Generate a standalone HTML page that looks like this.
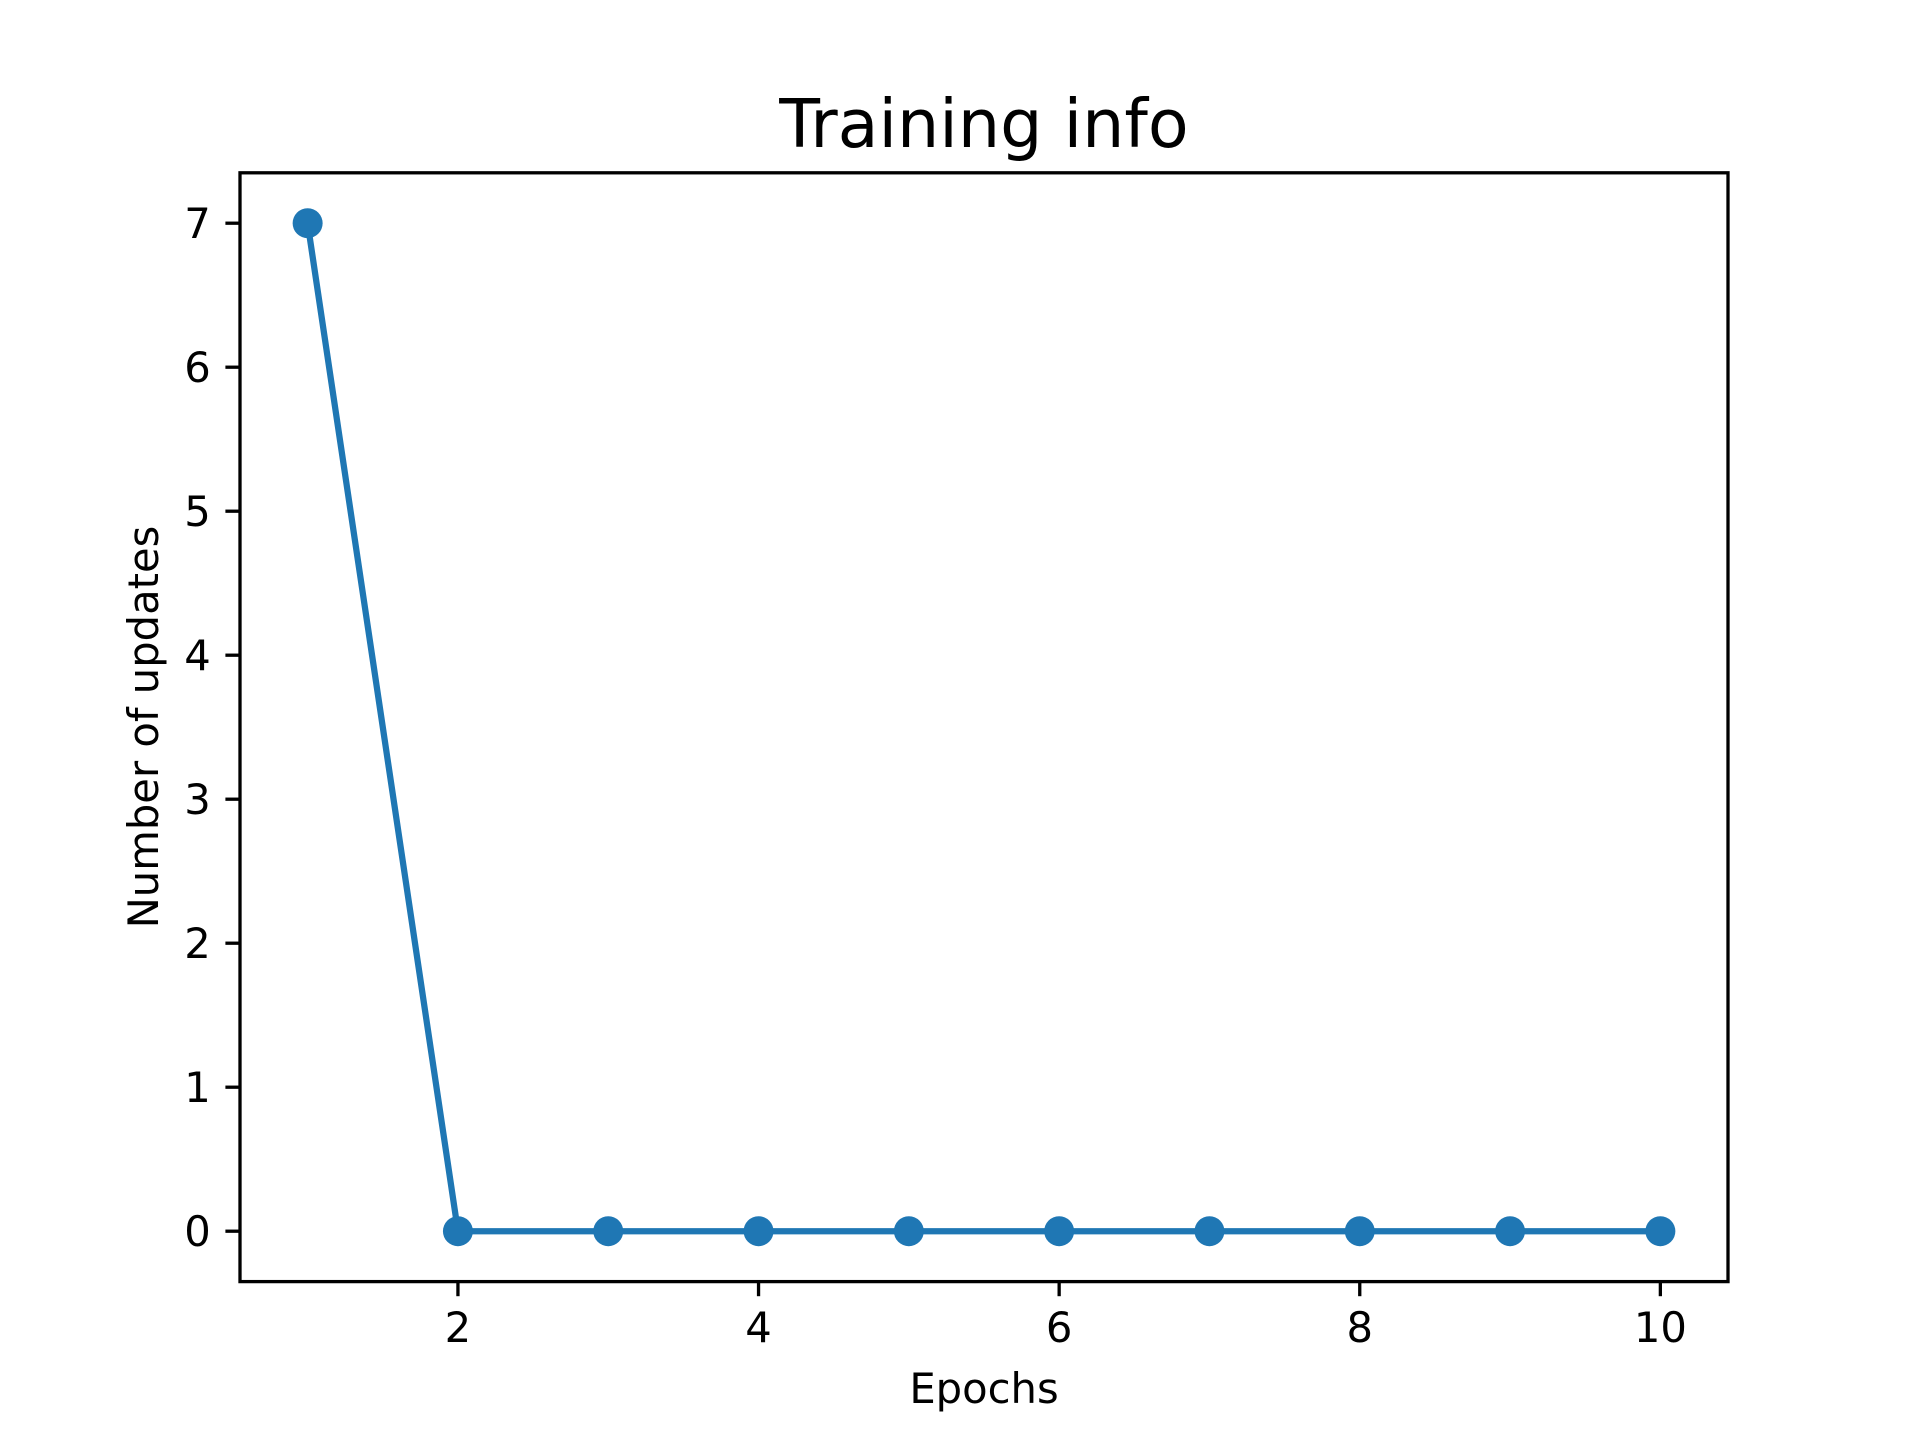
<!DOCTYPE html>
<html><head><meta charset="utf-8"><style>
html,body{margin:0;padding:0;background:#fff}
svg{display:block}
text{font-family:"DejaVu Sans","Liberation Sans",sans-serif;fill:#000}
</style></head><body>
<svg id="chart" width="1920" height="1440" viewBox="0 0 1920 1440" xmlns="http://www.w3.org/2000/svg">
<rect width="1920" height="1440" fill="#fff"/>
<text x="984" y="147" font-size="66.7" text-anchor="middle">Training info</text>
<g id="plot"></g>
<text x="984" y="1403" font-size="41.7" text-anchor="middle">Epochs</text>
<text transform="translate(158,727) rotate(-90)" font-size="41.7" text-anchor="middle">Number of updates</text>
</svg>
<script>
const epochs = [1,2,3,4,5,6,7,8,9,10];
const updates = [7,0,0,0,0,0,0,0,0,0];
const xTicks = [2,4,6,8,10];
const yTicks = [0,1,2,3,4,5,6,7];

const L=240,R=1728,T=172.8,B=1281.6;
const xmin=0.55,xmax=10.45,ymin=-0.35,ymax=7.35;
const xs=v=>L+(v-xmin)/(xmax-xmin)*(R-L);
const ys=v=>B-(v-ymin)/(ymax-ymin)*(B-T);
const NS="http://www.w3.org/2000/svg";
const g=document.getElementById('plot');
function mk(tag,attrs){const e=document.createElementNS(NS,tag);for(const k in attrs)e.setAttribute(k,attrs[k]);g.appendChild(e);return e;}

xTicks.forEach(v=>{
  const t=mk('line',{x1:xs(v),x2:xs(v),y1:B,y2:B+14.6,stroke:'#000','stroke-width':3.3});
  
  
  const l=mk('text',{x:xs(v),y:B+14.6+14.6+31,'font-size':41.7,'text-anchor':'middle'});
  l.textContent=v;
  
  
});
yTicks.forEach(v=>{
  const t=mk('line',{x1:L-14.6,x2:L,y1:ys(v),y2:ys(v),stroke:'#000','stroke-width':3.3});
  
  
  const l=mk('text',{x:L-14.6-14.6,y:ys(v)+15,'font-size':41.7,'text-anchor':'end'});
  l.textContent=v;
  
  
});
const pts=epochs.map((e,i)=>xs(e)+','+ys(updates[i])).join(' ');
const line=mk('polyline',{points:pts,fill:'none',stroke:'#1f77b4','stroke-width':6.25,'stroke-linejoin':'round','stroke-linecap':'square'});


epochs.forEach((e,i)=>{
  const c=mk('circle',{cx:xs(e),cy:ys(updates[i]),r:15,fill:'#1f77b4'});
  
  
});
const frame=mk('rect',{x:L,y:T,width:R-L,height:B-T,fill:'none',stroke:'#000','stroke-width':3.3});


</script>
</body></html>
